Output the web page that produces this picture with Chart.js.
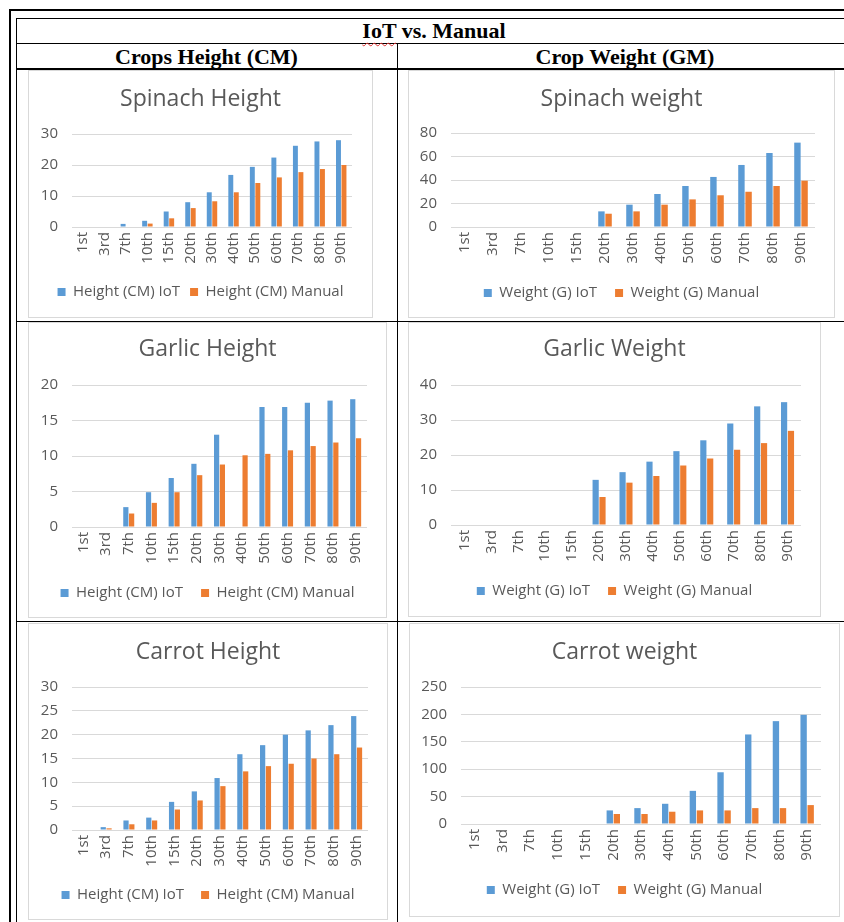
<!DOCTYPE html>
<html>
<head>
<meta charset="utf-8">
<title>IoT vs. Manual</title>
<script src="https://cdn.jsdelivr.net/npm/chart.js@4.4.0/dist/chart.umd.min.js"></script>
<style>
  html, body { margin: 0; padding: 0; background: #fff; }
  body { width: 844px; height: 922px; overflow: hidden; position: relative; }
  .line { position: absolute; background: #000; }
  .head { position: absolute; height: 25px; line-height: 25px; text-align: center;
          font-family: 'Liberation Serif', 'Times New Roman', serif; font-weight: bold; font-size: 22px; color: #000; }
  .squiggle { text-decoration: underline wavy #e03030; text-decoration-thickness: 1px; text-underline-offset: 4px; }
  .frame { position: absolute; border: 1px solid #d9d9d9; box-sizing: border-box; background: #fff; }
  .frame canvas { position: absolute; left: -1px; top: -1px; }
</style>
</head>
<body>
<!-- table borders -->
<div class="line" style="left:9px;top:9px;width:2px;height:913px"></div>
<div class="line" style="left:9px;top:9px;width:835px;height:2px"></div>
<div class="line" style="left:16px;top:18px;width:1px;height:904px"></div>
<div class="line" style="left:16px;top:18px;width:828px;height:1px"></div>
<div class="line" style="left:16px;top:43px;width:828px;height:1px"></div>
<div class="line" style="left:16px;top:68px;width:828px;height:2px"></div>
<div class="line" style="left:397px;top:43px;width:1px;height:879px"></div>
<div class="line" style="left:16px;top:321px;width:828px;height:1px"></div>
<div class="line" style="left:16px;top:621px;width:828px;height:1px"></div>

<div class="head" style="left:16px;top:18px;width:836px"><span class="squiggle">IoT</span> vs. Manual</div>
<div class="head" style="left:16px;top:44px;width:381px">Crops Height (CM)</div>
<div class="head" style="left:398px;top:44px;width:454px">Crop Weight (GM)</div>

<div class="frame" style="left:28px;top:70px;width:345px;height:248px"><canvas id="spinachHeight" width="345" height="248"></canvas></div>
<div class="frame" style="left:408px;top:70px;width:427px;height:248px"><canvas id="spinachWeight" width="427" height="248"></canvas></div>
<div class="frame" style="left:28px;top:322px;width:359px;height:296px"><canvas id="garlicHeight" width="359" height="296"></canvas></div>
<div class="frame" style="left:408px;top:322px;width:413px;height:295px"><canvas id="garlicWeight" width="413" height="295"></canvas></div>
<div class="frame" style="left:28px;top:623px;width:360px;height:297px"><canvas id="carrotHeight" width="360" height="297"></canvas></div>
<div class="frame" style="left:409px;top:623px;width:431px;height:294px"><canvas id="carrotWeight" width="431" height="294"></canvas></div>

<script>
// days after sowing
const categories = ['1st', '3rd', '7th', '10th', '15th', '20th', '30th', '40th', '50th', '60th', '70th', '80th', '90th'];
const heightSeries = ['Height (CM) IoT', 'Height (CM) Manual'];
const weightSeries = ['Weight (G) IoT', 'Weight (G) Manual'];

const spinachHeightIot = [0, 0, 1, 2, 5, 8, 11.2, 16.8, 19.4, 22.4, 26.2, 27.6, 28];
const spinachHeightManual = [0, 0, 0, 1.1, 2.8, 6.1, 8.3, 11.2, 14.2, 16, 17.7, 18.7, 20];
const spinachHeightTicks = [0, 10, 20, 30];

const spinachWeightIot = [0, 0, 0, 0, 0, 13.3, 19, 28.1, 34.9, 42.6, 52.8, 63, 71.8];
const spinachWeightManual = [0, 0, 0, 0, 0, 11.3, 13.3, 19, 23.5, 27, 30, 34.9, 39.4];
const spinachWeightTicks = [0, 20, 40, 60, 80];

const garlicHeightIot = [0, 0, 2.8, 4.9, 6.9, 8.9, 13, 0, 16.9, 16.9, 17.5, 17.8, 18];
const garlicHeightManual = [0, 0, 1.9, 3.4, 4.9, 7.3, 8.8, 10.1, 10.3, 10.8, 11.4, 11.9, 12.5];
const garlicHeightTicks = [0, 5, 10, 15, 20];

const garlicWeightIot = [0, 0, 0, 0, 0, 12.9, 15.1, 18.1, 21.1, 24.2, 29, 33.9, 35.1];
const garlicWeightManual = [0, 0, 0, 0, 0, 8, 12.1, 14, 17, 19, 21.5, 23.4, 26.9];
const garlicWeightTicks = [0, 10, 20, 30, 40];

const carrotHeightIot = [0, 0.6, 2, 2.6, 5.9, 8.1, 10.9, 15.9, 17.8, 20, 20.9, 22, 23.9];
const carrotHeightManual = [0, 0.35, 1.2, 2, 4.3, 6.2, 9.2, 12.3, 13.4, 13.9, 15, 15.9, 17.3];
const carrotHeightTicks = [0, 5, 10, 15, 20, 25, 30];

const carrotWeightIot = [0, 0, 0, 0, 0, 24.8, 29, 36.9, 60.5, 94.4, 163.4, 187.7, 199.2];
const carrotWeightManual = [0, 0, 0, 0, 0, 18.2, 18.2, 22.4, 24.8, 24.8, 29, 29, 34.5];
const carrotWeightTicks = [0, 50, 100, 150, 200, 250];

const BLUE = '#5b9bd5';
const ORANGE = '#ed7d31';
const TEXT = '#595959';
const GRID = '#d9d9d9';
const FONT = "'Open Sans', 'Noto Sans', sans-serif";

function drawChart(id, title, seriesNames, iotValues, manualValues, ticks, box) {
    const canvas = document.getElementById(id);
    const h = canvas.height;
    const titleSize = 23, titleLine = 27;
    const titleTop = box.titleCy - titleLine / 2;
    const legendSize = 15;
    // rotated day labels need about 40px below the axis, or they get clipped
    const legendPad = Math.min(box.legendGap, Math.floor(box.legendCy - box.plotB - legendSize / 2 - 40));
    const axisHeight = box.legendCy - box.plotB - legendPad - legendSize / 2;
    const legendHeight = legendSize + legendPad + 10;

    new Chart(canvas, {
        type: 'bar',
        data: {
            labels: categories,
            datasets: [
                { label: seriesNames[0], data: iotValues, backgroundColor: BLUE },
                { label: seriesNames[1], data: manualValues, backgroundColor: ORANGE }
            ]
        },
        options: {
            responsive: false,
            animation: false,
            devicePixelRatio: 1,
            layout: {
                padding: { top: 0, left: 0, right: 0, bottom: h - box.plotB - axisHeight - legendHeight }
            },
            datasets: { bar: { categoryPercentage: 0.51, barPercentage: 0.9 } },
            plugins: {
                title: {
                    display: true,
                    text: title,
                    color: TEXT,
                    font: { family: FONT, size: titleSize, weight: 'normal', lineHeight: titleLine / titleSize },
                    padding: { top: titleTop, bottom: box.plotT - titleTop - titleLine }
                },
                legend: {
                    position: 'bottom',
                    labels: {
                        boxWidth: 8,
                        boxHeight: 8,
                        padding: legendPad,
                        color: TEXT,
                        font: { family: FONT, size: legendSize }
                    }
                },
                tooltip: { enabled: false }
            },
            scales: {
                x: {
                    grid: { display: false, drawTicks: false },
                    border: { display: false },
                    ticks: {
                        color: TEXT,
                        font: { family: FONT, size: 15 },
                        minRotation: 90,
                        maxRotation: 90,
                        autoSkip: false,
                        padding: 5
                    },
                    afterFit: function(scale) { scale.height = axisHeight; }
                },
                y: {
                    min: ticks[0],
                    max: ticks[ticks.length - 1],
                    grid: { color: GRID, drawTicks: false },
                    border: { display: false },
                    ticks: {
                        stepSize: ticks[1] - ticks[0],
                        color: TEXT,
                        font: { family: FONT, size: 15 },
                        padding: 14
                    },
                    afterFit: function(scale) { scale.width = box.plotL; }
                },
                // empty right-hand axis, only keeps the gap on the right of the plot
                gap: {
                    type: 'linear',
                    position: 'right',
                    grid: { display: false, drawTicks: false },
                    border: { display: false },
                    ticks: { display: false },
                    afterFit: function(scale) { scale.width = box.padR; }
                }
            }
        }
    });
}

drawChart('spinachHeight', 'Spinach Height', heightSeries, spinachHeightIot, spinachHeightManual, spinachHeightTicks,
    { plotL: 44, padR: 21, plotT: 64, plotB: 157, titleCy: 29, legendCy: 222, legendGap: 10 });
drawChart('spinachWeight', 'Spinach weight', weightSeries, spinachWeightIot, spinachWeightManual, spinachWeightTicks,
    { plotL: 43, padR: 20, plotT: 63, plotB: 157, titleCy: 29, legendCy: 223, legendGap: 27 });
drawChart('garlicHeight', 'Garlic Height', heightSeries, garlicHeightIot, garlicHeightManual, garlicHeightTicks,
    { plotL: 44, padR: 20, plotT: 63, plotB: 205, titleCy: 27, legendCy: 271, legendGap: 20 });
drawChart('garlicWeight', 'Garlic Weight', weightSeries, garlicWeightIot, garlicWeightManual, garlicWeightTicks,
    { plotL: 43, padR: 20, plotT: 63, plotB: 203, titleCy: 27, legendCy: 269, legendGap: 24 });
drawChart('carrotHeight', 'Carrot Height', heightSeries, carrotHeightIot, carrotHeightManual, carrotHeightTicks,
    { plotL: 44, padR: 20, plotT: 64, plotB: 207, titleCy: 29, legendCy: 272, legendGap: 20 });
drawChart('carrotWeight', 'Carrot weight', weightSeries, carrotWeightIot, carrotWeightManual, carrotWeightTicks,
    { plotL: 52, padR: 19, plotT: 64, plotB: 201, titleCy: 29, legendCy: 267, legendGap: 25 });
</script>
</body>
</html>
